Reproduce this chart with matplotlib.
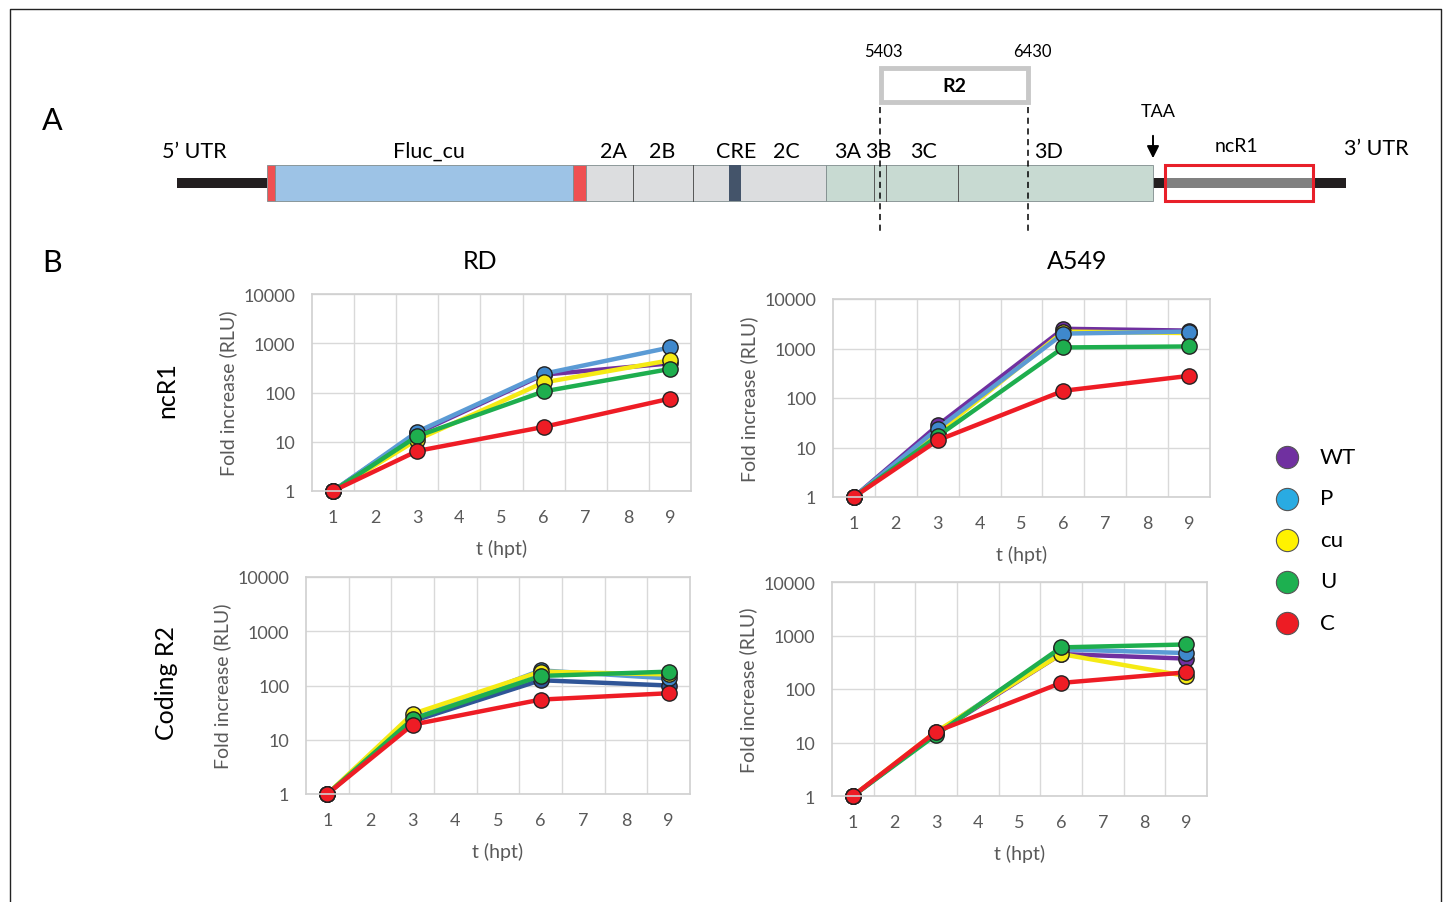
import matplotlib
matplotlib.use('Agg')
import matplotlib.pyplot as plt
from matplotlib.patches import Rectangle
from matplotlib.ticker import FixedLocator, FuncFormatter

plt.rcParams['font.family'] = ['Lato', 'DejaVu Sans']

# ---- data ----
hpt = [1, 3, 6, 9]
variants = ['WT', 'P', 'cu', 'U', 'C']

rd_ncr1 = {'WT': [1, 15, 230, 390], 'P': [1, 16, 240, 820], 'cu': [1, 11, 160, 450],
           'U': [1, 13, 105, 300], 'C': [1, 6.5, 20, 75]}
a549_ncr1 = {'WT': [1, 28, 2500, 2300], 'P': [1, 24, 2000, 2200], 'cu': [1, 20, 2200, 2050],
             'U': [1, 17, 1050, 1100], 'C': [1, 14, 140, 280]}
rd_r2 = {'WT': [1, 22, 125, 100], 'P': [1, 24, 190, 135], 'cu': [1, 30, 180, 160],
         'U': [1, 24, 150, 180], 'C': [1, 19, 55, 72]}
a549_r2 = {'WT': [1, 15, 450, 370], 'P': [1, 15, 550, 470], 'cu': [1, 16, 450, 175],
           'U': [1, 14, 600, 680], 'C': [1, 16, 130, 205]}

line_col = {'WT': '#7030A0', 'P': '#5B9BD5', 'cu': '#F5EA14', 'U': '#1EAE4E', 'C': '#EE1C25'}
mark_col = {'WT': '#7030A0', 'P': '#3F88CC', 'cu': '#F5EA14', 'U': '#1EAE4E', 'C': '#EE1C25'}
legend_col = {'WT': '#7030A0', 'P': '#29ABE2', 'cu': '#FFF200', 'U': '#1DB050', 'C': '#ED1C24'}

W, H = 1447, 903
fig = plt.figure(figsize=(W / 100, H / 100), dpi=100)

# full-figure axes in pixel units for the genome diagram and labels
ax0 = fig.add_axes([0, 0, 1, 1])
ax0.set_xlim(0, W)
ax0.set_ylim(H, 0)
ax0.axis('off')


def txt(x, y, s, **kw):
    kw.setdefault('ha', 'center')
    kw.setdefault('va', 'center')
    ax0.text(x, y, s, **kw)


# frame around the figure
ax0.plot([10, 10, 1441, 1441], [905, 10, 10, 905], color='#222222', lw=1)

# ---- panel A: genome map ----
txt(52, 121, 'A', fontsize=22)
txt(52, 263, 'B', fontsize=22)

ax0.add_patch(Rectangle((177, 179), 90, 10, color='#231F20', lw=0))
ax0.add_patch(Rectangle((1153, 179), 193, 10, color='#231F20', lw=0))
ax0.add_patch(Rectangle((1165, 179), 148, 10, color='#808080', lw=0))
ax0.add_patch(Rectangle((1165, 166), 148, 36, fill=False, ec='#E8202A', lw=2.2))

segs = [(267, 275, '#EF5052'), (275, 573, '#9DC3E6'), (573, 586, '#EF5052'),
        (586, 826, '#DCDDDF'), (826, 1153, '#C8DAD2')]
for x0, x1, c in segs:
    ax0.add_patch(Rectangle((x0, 166), x1 - x0, 36, fc=c, ec='#7F8C8D', lw=0.6))
ax0.add_patch(Rectangle((729, 166), 12, 36, fc='#44546A', lw=0))
for xd in [633, 693, 874, 886, 958]:
    ax0.plot([xd, xd], [166, 202], color='#555555', lw=0.7)

for x, s in [(194, '5’ UTR'), (429, 'Fluc_cu'), (613, '2A'), (662, '2B'), (736, 'CRE'),
             (786, '2C'), (848, '3A'), (878, '3B'), (924, '3C'), (1049, '3D'),
             (1376, '3’ UTR')]:
    txt(x, 152 if s != '3’ UTR' else 149, s, fontsize=15.5)
txt(1236, 147, 'ncR1', fontsize=14)
txt(1158, 112, 'TAA', fontsize=13)
ax0.annotate('', xy=(1153, 162), xytext=(1153, 134),
             arrowprops=dict(arrowstyle='-|>', color='black', lw=1.4, mutation_scale=18))

ax0.add_patch(Rectangle((881, 69), 147, 34, fill=False, ec='#C8C8C8', lw=3.5))
txt(954, 87, 'R2', fontsize=14, fontweight='bold')
txt(883, 52, '5403', fontsize=12)
txt(1032, 52, '6430', fontsize=12)
for xd in [880, 1028]:
    ax0.plot([xd, xd], [108, 234], color='black', lw=1.1, ls=(0, (4, 3)))

# ---- panel B: growth curves ----
txt(480, 262, 'RD', fontsize=18)
txt(1077, 262, 'A549', fontsize=18)
txt(167, 390, 'ncR1', fontsize=18, rotation=90)
txt(166, 683, 'Coding R2', fontsize=18, rotation=90)

std_order = ['WT', 'P', 'cu', 'U', 'C']
panels = [
    (rd_ncr1, (312, 295, 691, 492), {}, std_order),
    (a549_ncr1, (833, 300, 1210, 498), {}, ['WT', 'cu', 'P', 'U', 'C']),
    (rd_r2, (306, 578, 690, 795), {'WT': '#2F5597'}, std_order),
    (a549_r2, (832, 583, 1207, 797), {}, std_order),
]

grey = '#595959'
for data, (l, t, r, b), override, order in panels:
    ax = fig.add_axes([l / W, 1 - b / H, (r - l) / W, (b - t) / H])
    ax.set_yscale('log')
    ax.set_ylim(1, 10000)
    ax.set_xlim(0.5, 9.5)
    ax.xaxis.set_major_locator(FixedLocator(range(1, 10)))
    ax.xaxis.set_minor_locator(FixedLocator([i + 0.5 for i in range(1, 9)]))
    ax.yaxis.set_major_locator(FixedLocator([1, 10, 100, 1000, 10000]))
    ax.yaxis.set_minor_locator(FixedLocator([]))
    ax.yaxis.set_major_formatter(FuncFormatter(lambda v, p: f'{int(round(v))}'))
    ax.grid(True, which='minor', axis='x', color='#D9D9D9', lw=1)
    ax.grid(True, which='major', axis='y', color='#D9D9D9', lw=1)
    ax.tick_params(which='both', length=0, labelsize=13, labelcolor=grey)
    ax.tick_params(axis='y', pad=12)
    ax.tick_params(axis='x', pad=13)
    for sp in ax.spines.values():
        sp.set_color('#D0D0D0')
        sp.set_linewidth(1.2)
    for v in order:
        lc = override.get(v, line_col[v])
        ax.plot(hpt, data[v], '-o', color=lc, lw=3.2, ms=11,
                mfc=override.get(v, mark_col[v]), mec='#222222', mew=1, clip_on=False)
    cx = (l + r) / 2
    txt(cx, b + 57, 't (hpt)', fontsize=14, color=grey)
    txt(l - 84, (t + b) / 2, 'Fold increase (RLU)', fontsize=14, color=grey, rotation=90)

# ---- legend ----
for i, v in enumerate(variants):
    y = 458 + i * 41.5
    ax0.plot(1287, y, 'o', ms=16, mfc=legend_col[v], mec='#555555', mew=0.8)
    txt(1320, y, v, fontsize=16, ha='left')

fig.savefig('out.png', dpi=100)
